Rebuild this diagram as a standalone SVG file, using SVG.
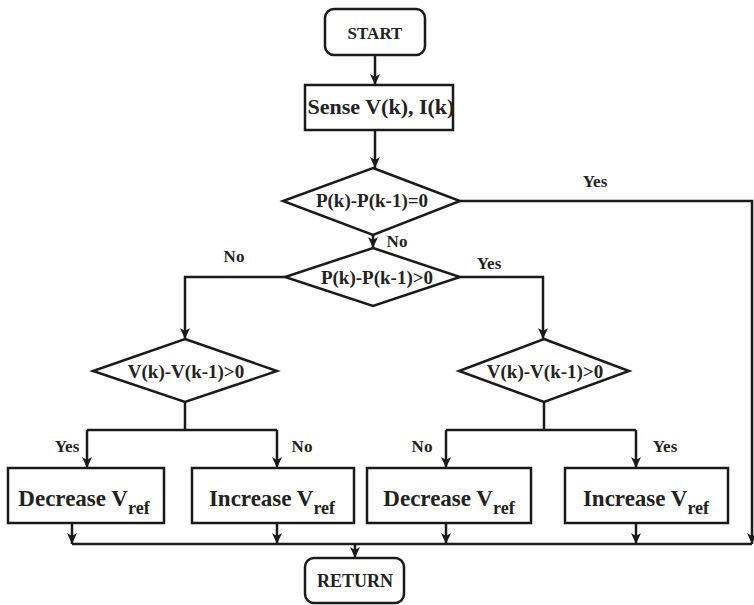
<svg xmlns="http://www.w3.org/2000/svg" width="754" height="605" viewBox="0 0 754 605">
<defs>
<marker id="ah" markerUnits="userSpaceOnUse" markerWidth="12" markerHeight="12" viewBox="0 0 12 12" refX="11" refY="6" orient="auto">
<path d="M0,1 L11,6 L0,11 L3,6 z" fill="#1a1a1a"/>
</marker>
</defs>
<style>
.sh{fill:#fff;stroke:#1a1a1a;stroke-width:2.5}
.ln{fill:none;stroke:#1a1a1a;stroke-width:2.5}
.ar{fill:none;stroke:#1a1a1a;stroke-width:2.5;marker-end:url(#ah)}
text{font-family:"Liberation Serif","DejaVu Serif",serif;font-weight:bold;fill:#222;text-anchor:middle}
.t{font-size:23px}
.d{font-size:19px}
.l{font-size:17px}
.sub{font-size:18px}
</style>
<rect width="754" height="605" fill="#fff"/>
<g id="connectors">
<path class="ar" d="M375,55 V85"/>
<path class="ar" d="M375,130 V168"/>
<path class="ar" d="M460,201 H752 V544"/>
<path class="ar" d="M373,235 V248"/>
<path class="ar" d="M285,277 H185 V339"/>
<path class="ar" d="M460,277 H543 V339"/>
<path class="ln" d="M185,402 V430 M87,430 H277"/>
<path class="ar" d="M87,430 V468"/>
<path class="ar" d="M277,430 V468"/>
<path class="ln" d="M544,402 V430 M446,430 H636"/>
<path class="ar" d="M446,430 V468"/>
<path class="ar" d="M636,430 V468"/>
<path class="ln" d="M72,544 H752"/>
<path class="ar" d="M72,523 V544"/>
<path class="ar" d="M277,523 V544"/>
<path class="ar" d="M446,523 V544"/>
<path class="ar" d="M636,523 V544"/>
<path class="ar" d="M355,544 V558"/>
<text class="l" x="595" y="187">Yes</text>
<text class="l" x="397" y="247">No</text>
<text class="l" x="234" y="262">No</text>
<text class="l" x="489" y="269">Yes</text>
<text class="l" x="67" y="452">Yes</text>
<text class="l" x="302" y="452">No</text>
<text class="l" x="422" y="452">No</text>
<text class="l" x="665" y="452">Yes</text>
</g>
<g id="start"><rect class="sh" x="325" y="9" width="100" height="46" rx="9"/><text x="375" y="39" style="font-size:17px">START</text></g>
<g id="sense"><rect class="sh" x="305" y="85" width="148" height="45"/><text x="381" y="114" style="font-size:22px">Sense V(k), I(k)</text></g>
<g id="d1"><polygon class="sh" points="373,168 460,201 373,235 283,201"/><text class="d" x="372" y="207">P(k)-P(k-1)=0</text></g>
<g id="d2"><polygon class="sh" points="373,248 460,277 373,306 285,277"/><text class="d" x="377" y="284">P(k)-P(k-1)&gt;0</text></g>
<g id="d3"><polygon class="sh" points="185,339 277,371 185,402 93,371"/><text class="d" x="186" y="378">V(k)-V(k-1)&gt;0</text></g>
<g id="d4"><polygon class="sh" points="544,339 629,371 544,402 459,371"/><text class="d" x="545" y="378">V(k)-V(k-1)&gt;0</text></g>
<g id="dec1"><rect class="sh" x="8" y="468" width="156" height="55"/><text class="t" x="84" y="506">Decrease V<tspan class="sub" dy="8">ref</tspan></text></g>
<g id="inc1"><rect class="sh" x="192" y="468" width="162" height="55"/><text class="t" x="272" y="506">Increase V<tspan class="sub" dy="8">ref</tspan></text></g>
<g id="dec2"><rect class="sh" x="367" y="468" width="164" height="55"/><text class="t" x="449" y="506">Decrease V<tspan class="sub" dy="8">ref</tspan></text></g>
<g id="inc2"><rect class="sh" x="565" y="468" width="163" height="55"/><text class="t" x="646" y="506">Increase V<tspan class="sub" dy="8">ref</tspan></text></g>
<g id="return"><rect class="sh" x="305" y="558" width="99" height="45" rx="9"/><text x="355" y="587" style="font-size:18px">RETURN</text></g>
</svg>
